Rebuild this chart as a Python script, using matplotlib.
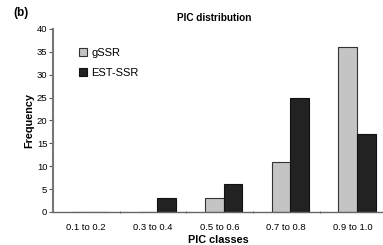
import matplotlib
matplotlib.use("Agg")
import matplotlib.pyplot as plt
import numpy as np

plt.rcParams['font.family'] = ['Liberation Sans', 'DejaVu Sans']

categories = ["0.1 to 0.2", "0.3 to 0.4", "0.5 to 0.6", "0.7 to 0.8", "0.9 to 1.0"]
gssr = [0, 0, 3, 11, 36]
est_ssr = [0, 3, 6, 25, 17]

fig = plt.figure(figsize=(3.83, 2.45), dpi=100)
ax = fig.add_axes([0.138, 0.135, 0.862, 0.747])

x = np.arange(len(categories))
w = 0.28
ax.bar(x + 0.06 - w / 2, gssr, w, color='#c4c4c4', edgecolor='#333333', linewidth=0.8, label='gSSR')
ax.bar(x + 0.06 + w / 2, est_ssr, w, color='#222222', edgecolor='#111111', linewidth=0.8, label='EST-SSR')

ax.set_xlim(-0.5, 4.45)
ax.set_ylim(0, 40)
ax.set_yticks(range(0, 41, 5))
ax.set_xticks(x)
ax.set_xticklabels(categories)
ax.set_xticks(np.arange(0.5, 4.5, 1), minor=True)
ax.tick_params(axis='x', which='major', length=0, labelsize=6.8, pad=8)
ax.tick_params(axis='x', which='minor', length=2, direction='inout', color='#444444')
ax.tick_params(axis='y', length=3, labelsize=6.8, pad=1, color='#555555')

for s in ['top', 'right']:
    ax.spines[s].set_visible(False)
ax.spines['left'].set_color('#777777')
ax.spines['left'].set_linewidth(1.5)
ax.spines['bottom'].set_color('#666666')
ax.spines['bottom'].set_linewidth(1.0)

ax.set_xlabel('PIC classes', fontsize=7.8, fontweight='bold', labelpad=2)
ax.set_ylabel('Frequency', fontsize=7.8, fontweight='bold', labelpad=2)
fig.text(0.56, 0.925, 'PIC distribution', fontsize=7.2, fontweight='bold', ha='center', va='center')
fig.text(0.035, 0.945, '(b)', fontsize=8.5, fontweight='bold', ha='left', va='center')

leg = ax.legend(loc='upper left', bbox_to_anchor=(0.05, 0.95), frameon=False, fontsize=8,
                handlelength=0.7, handleheight=0.7, handletextpad=0.4, labelspacing=0.9)

fig.savefig('out.png', dpi=100)
